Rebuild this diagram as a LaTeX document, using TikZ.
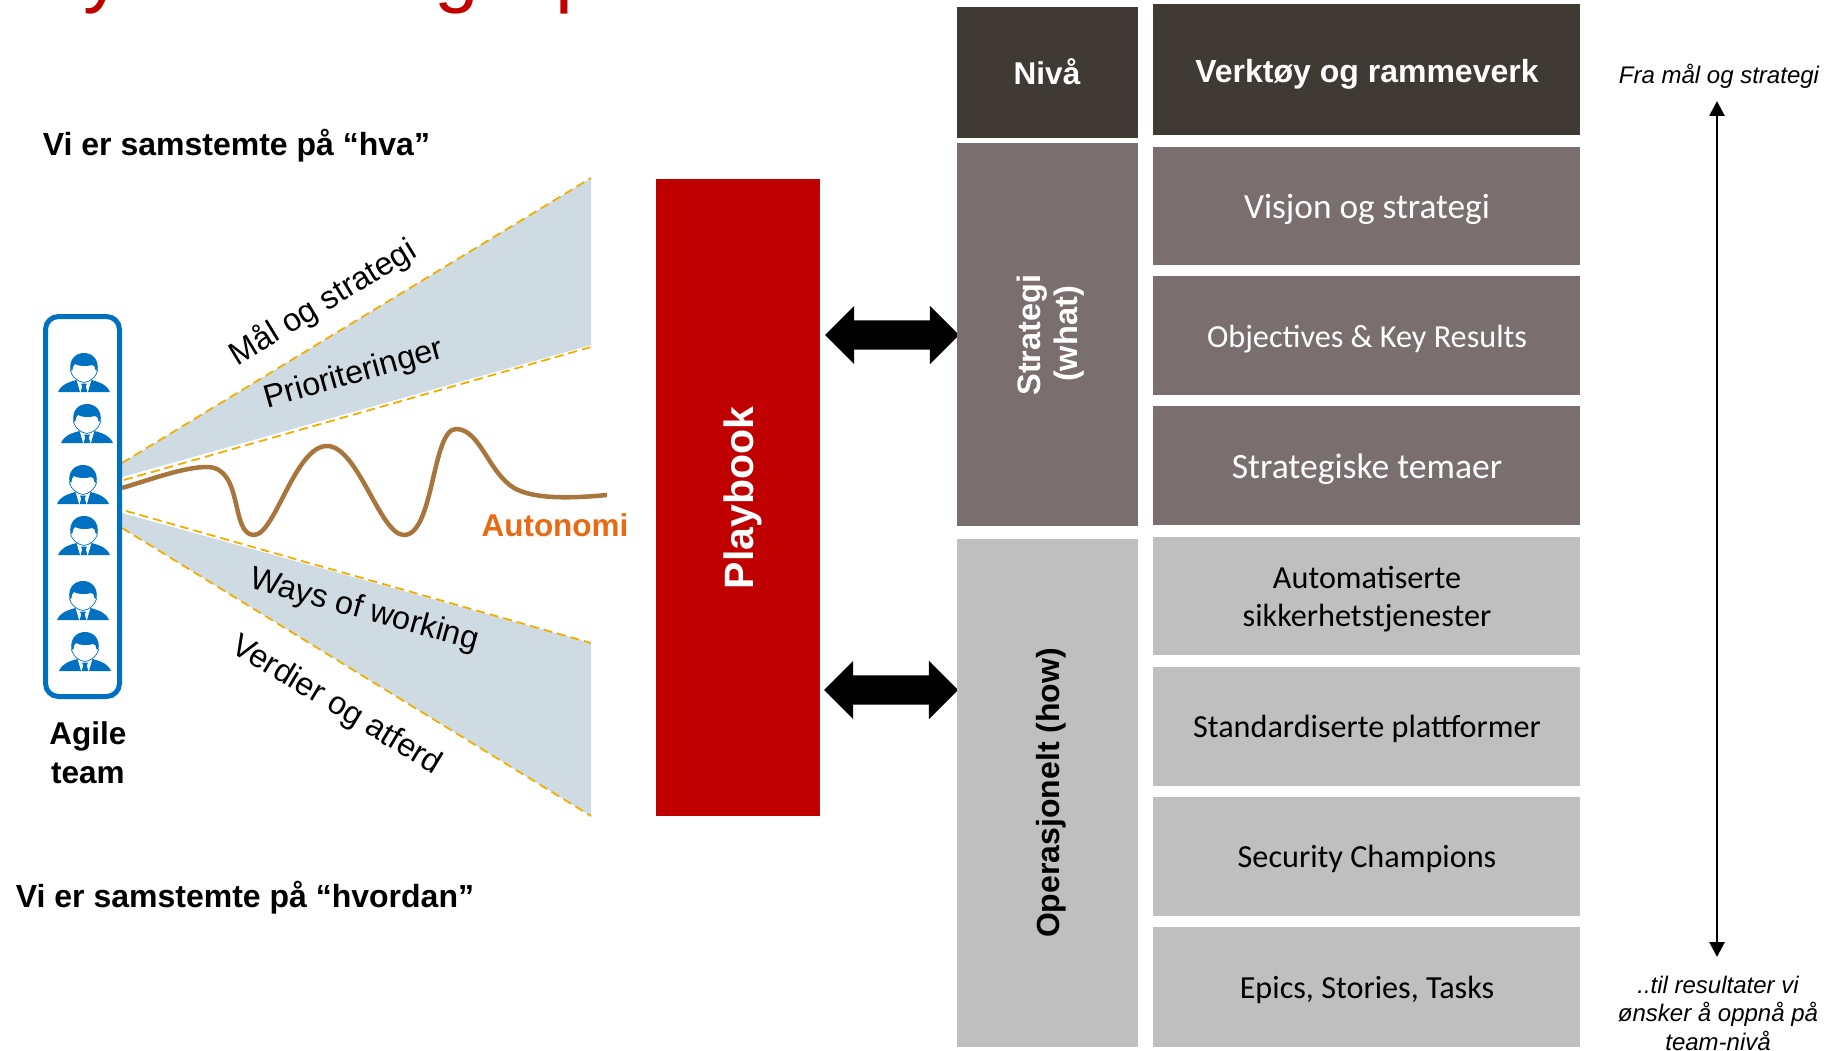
\documentclass[tikz,border=0pt]{standalone}
\usepackage{fontspec}
\setmainfont{Liberation Sans}
\newfontfamily\calib{Carlito}
\usetikzlibrary{arrows.meta,shapes.arrows}
\definecolor{dkbrown}{HTML}{3F3A34}
\definecolor{midbrown}{HTML}{7A6F6E}
\definecolor{ltgrey}{HTML}{BFBFBF}
\definecolor{pbred}{HTML}{C00000}
\definecolor{wedgefill}{HTML}{CFDBE3}
\definecolor{wedgeline}{HTML}{F2AE00}
\definecolor{teamblue}{HTML}{0070C0}
\definecolor{curvebrown}{HTML}{A8763C}
\definecolor{autoorange}{HTML}{E96A14}
\tikzset{
  x=1pt,y=-1pt,
  lbl/.style={inner sep=0pt,outer sep=0pt,anchor=base,align=center},
  boldlbl/.style={lbl,font=\fontsize{32}{36}\selectfont\bfseries},
  armlbl/.style={lbl,font=\fontsize{32.3}{36}\selectfont},
  calibw/.style={lbl,font=\calib\fontsize{#1}{36}\selectfont},
  noteit/.style={lbl,font=\fontsize{24}{28.5}\selectfont\itshape},
  wedgeedge/.style={draw=wedgeline,line width=1.8pt,dash pattern=on 9pt off 5pt},
  blockarrow/.style={shape=double arrow,fill=black,draw=none,double arrow tip angle=90,
    minimum height=134pt,minimum width=58pt,inner xsep=0pt,inner ysep=14.5pt,outer sep=0pt,double arrow head extend=14.5pt},
  titleglyph/.style={lbl,anchor=base west,text=pbred,font=\fontsize{80}{90}\selectfont},
  person/.pic={
    \fill[teamblue] (-13.5,18) .. controls (-15.5,5) and (-7,0) .. (0,0)
       .. controls (7,0) and (15.5,5) .. (13.5,18) -- (11.5,17)
       .. controls (11.5,14) and (10,12) .. (8,12) .. controls (2,14) and (-6,13) .. (-9,11)
       .. controls (-11,13) and (-11.5,14) .. (-11.5,17) -- cycle;
    \draw[teamblue,line width=.7pt] (-13.5,18) .. controls (-12,24) and (-6,29) .. (0,29.5)
       .. controls (6,29) and (12,24) .. (13.5,18);
    \fill[teamblue] (-26,39) .. controls (-23,32) and (-17,29.5) .. (-7.5,27) -- (-4,39) -- cycle;
    \fill[teamblue] (26,39) .. controls (23,32) and (17,29.5) .. (7.5,27) -- (4,39) -- cycle;
    \fill[teamblue] (-3,30.5) -- (3,30.5) -- (1.8,33.5) -- (3.3,39) -- (-3.3,39) -- (-1.8,33.5) -- cycle;
  }
}
\begin{document}
\begin{tikzpicture}
\useasboundingbox (0,0) rectangle (1826,1051);

% clipped title descenders
\node[titleglyph] (t1) at (83,-2) {y};
\node[titleglyph] (t2) at (434,-2) {g};
\node[titleglyph] (t3) at (555,-2) {p};

% wedges
\coordinate (ua) at (122,463); \coordinate (ub) at (591,178);
\coordinate (uc) at (122,477); \coordinate (ud) at (591,345);
\coordinate (ue) at (124,480); \coordinate (uf) at (591,347);
\coordinate (la) at (122,513); \coordinate (lb) at (591,643);
\coordinate (lc) at (122,528); \coordinate (ld) at (591,816);
\coordinate (le) at (126,511);
\fill[wedgefill] (ua) -- (ub) -- (ud) -- (uc) -- cycle;
\fill[wedgefill] (la) -- (lb) -- (ld) -- (lc) -- cycle;
\draw[wedgeedge] (ua) -- (ub);
\draw[wedgeedge] (ue) -- (uf);
\draw[wedgeedge] (le) -- (lb);
\draw[wedgeedge] (lc) -- (ld);

% autonomy curve
\coordinate (cs) at (122,488); \coordinate (ce) at (607,495);
\draw[curvebrown,line width=4.5pt] (cs) .. controls (155,478) and (185,467) .. (207,467)
  .. controls (244,467) and (230,535) .. (254,535)
  .. controls (275,535) and (295,446) .. (327,446)
  .. controls (358,446) and (380,535) .. (404,535)
  .. controls (434,535) and (432,429) .. (456,429)
  .. controls (480,429) and (488,472) .. (514,488)
  .. controls (535,500) and (575,498) .. (ce);
\node[lbl,font=\fontsize{31.5}{36}\selectfont\bfseries,text=autoorange] (auto) at (555,536) {Autonomi};

% team box
\node[draw=teamblue,line width=5pt,rounded corners=13pt,minimum width=74pt,minimum height=380pt,inner sep=0pt,outer sep=0pt] (team) at (82.5,506.5) {};
\pic at (84,353) {person};
\pic at (87,404) {person};
\pic at (83,465) {person};
\pic at (84,516) {person};
\pic at (83,581) {person};
\pic at (85,632) {person};
\node[boldlbl,font=\fontsize{31.5}{36}\selectfont\bfseries] (ag1) at (88,744) {Agile};
\node[boldlbl,font=\fontsize{31.5}{36}\selectfont\bfseries] (ag2) at (88,783) {team};

% headings
\node[boldlbl] (h1) at (236.5,156) {Vi er samstemte på “hva”};
\node[boldlbl] (h2) at (245,907) {Vi er samstemte på “hvordan”};

% wedge labels
\node[armlbl,rotate=31.3] (l1) at (328,311) {Mål og strategi};
\node[armlbl,rotate=15.7] (l2) at (356,383) {Prioriteringer};
\node[armlbl,rotate=-15.5] (l3) at (362,619) {Ways of working};
\node[armlbl,rotate=-31] (l4) at (332,713) {Verdier og atferd};

% playbook
\fill[pbred] (656,179) rectangle (820,816);
\node[lbl,rotate=90,text=white,font=\fontsize{41}{44}\selectfont\bfseries] (pb) at (753,498) {Playbook};

% block arrows
\node[blockarrow] (ba1) at (892,335) {};
\node[blockarrow] (ba2) at (891,690) {};

% level column
\fill[dkbrown] (957,7) rectangle (1138,138);
\fill[midbrown] (957,143) rectangle (1138,526);
\fill[ltgrey] (957,539) rectangle (1138,1047);
\node[boldlbl,text=white,font=\fontsize{31.5}{36}\selectfont\bfseries] (niva) at (1047,85) {Nivå};
\node[boldlbl,rotate=90,text=white,font=\fontsize{32.5}{36}\selectfont\bfseries] (st1) at (1040,335) {Strategi};
\node[boldlbl,rotate=90,text=white,font=\fontsize{32.5}{36}\selectfont\bfseries] (st2) at (1077,334) {(what)};
\node[boldlbl,rotate=90] (op) at (1059,793) {Operasjonelt (how)};

% tools column
\fill[dkbrown] (1153,4) rectangle (1580,135);
\fill[midbrown] (1153,147) rectangle (1580,265);
\fill[midbrown] (1153,276) rectangle (1580,395);
\fill[midbrown] (1153,406) rectangle (1580,525);
\fill[ltgrey] (1153,537) rectangle (1580,655);
\fill[ltgrey] (1153,667) rectangle (1580,786);
\fill[ltgrey] (1153,797) rectangle (1580,916);
\fill[ltgrey] (1153,927) rectangle (1580,1047);
\node[boldlbl,text=white] (r0) at (1367,83) {Verktøy og rammeverk};
\node[calibw=35.3,text=white] (r1) at (1367,219) {Visjon og strategi};
\node[calibw=32.2,text=white] (r2) at (1367,347) {Objectives \& Key Results};
\node[calibw=35.6,text=white] (r3) at (1367,478) {Strategiske temaer};
\node[calibw=32.2] (r4a) at (1367,588) {Automatiserte};
\node[calibw=32.2] (r4b) at (1367,626) {sikkerhetstjenester};
\node[calibw=32.2] (r5) at (1367,737) {Standardiserte plattformer};
\node[calibw=32.2] (r6) at (1367,867) {Security Champions};
\node[calibw=32.2] (r7) at (1367,998) {Epics, Stories, Tasks};

% right axis
\coordinate (axt) at (1717,101); \coordinate (axb) at (1717,957);
\draw[line width=2.8pt,{Triangle[width=15pt,length=15pt]}-{Triangle[width=15pt,length=15pt]}] (axt) -- (axb);
\node[noteit] (n1) at (1719,84) {Fra mål og strategi};
\node[noteit] (n2) at (1718,993) {..til resultater vi};
\node[noteit] (n3) at (1718,1021) {ønsker å oppnå på};
\node[noteit] (n4) at (1718,1050) {team-nivå};
\end{tikzpicture}
\end{document}
